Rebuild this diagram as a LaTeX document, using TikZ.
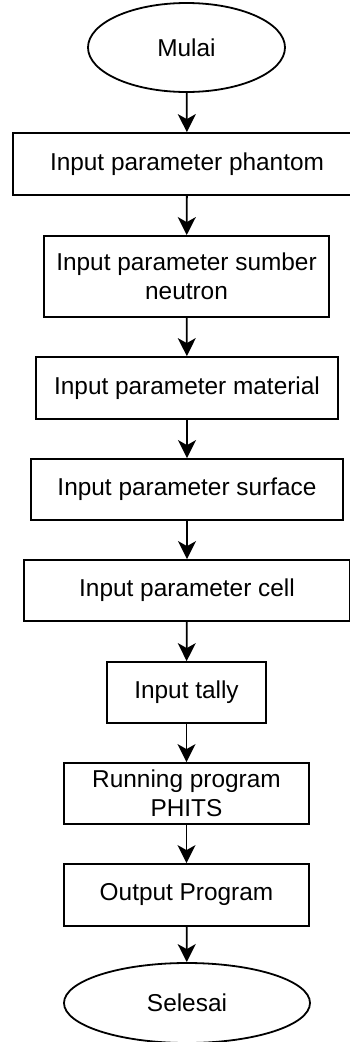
\documentclass[tikz,border=0pt]{standalone}
\usepackage{fontspec}
\setmainfont{Liberation Sans}
\usetikzlibrary{shapes.geometric,arrows.meta}
\begin{document}
\begin{tikzpicture}[x=1pt,y=-1pt,
  every node/.style={font=\fontsize{24.4}{29}\selectfont, align=center, inner sep=0pt},
  procbox/.style={draw, line width=1.8pt, rectangle},
  termnode/.style={draw, line width=1.8pt, ellipse},
  flow/.style={draw, line width=1.8pt, -{Stealth[length=18pt,width=18pt,inset=5pt]}}]
  \useasboundingbox (0,0) rectangle (349,1042);
  \node[termnode, minimum width=197pt, minimum height=89pt] (start) at (186.5,47.5) {Mulai};
  \node[procbox, minimum width=348pt, minimum height=62pt] (phantom) at (187,164) {Input parameter phantom};
  \node[procbox, minimum width=285pt, minimum height=81pt] (source) at (186.5,276.5) {Input parameter sumber\\neutron};
  \node[procbox, minimum width=302pt, minimum height=62pt] (material) at (187,388) {Input parameter material};
  \node[procbox, minimum width=312pt, minimum height=61pt] (surface) at (187,489.5) {Input parameter surface};
  \node[procbox, minimum width=326pt, minimum height=61pt] (cell) at (187,590.5) {Input parameter cell};
  \node[procbox, minimum width=159pt, minimum height=61pt] (tally) at (186.5,692.5) {Input tally};
  \node[procbox, minimum width=245pt, minimum height=61pt] (run) at (186.5,793.5) {Running program\\PHITS};
  \node[procbox, minimum width=245pt, minimum height=62pt] (output) at (186.5,895) {Output Program};
  \node[termnode, minimum width=246pt, minimum height=80pt] (stop) at (187,1003) {Selesai};
  \draw[flow] (start) -- (phantom);
  \draw[flow] (phantom) -- (source);
  \draw[flow] (source) -- (material);
  \draw[flow] (material) -- (surface);
  \draw[flow] (surface) -- (cell);
  \draw[flow] (cell) -- (tally);
  \draw[flow] (tally) -- (run);
  \draw[flow] (run) -- (output);
  \draw[flow] (output) -- (stop);
\end{tikzpicture}
\end{document}
